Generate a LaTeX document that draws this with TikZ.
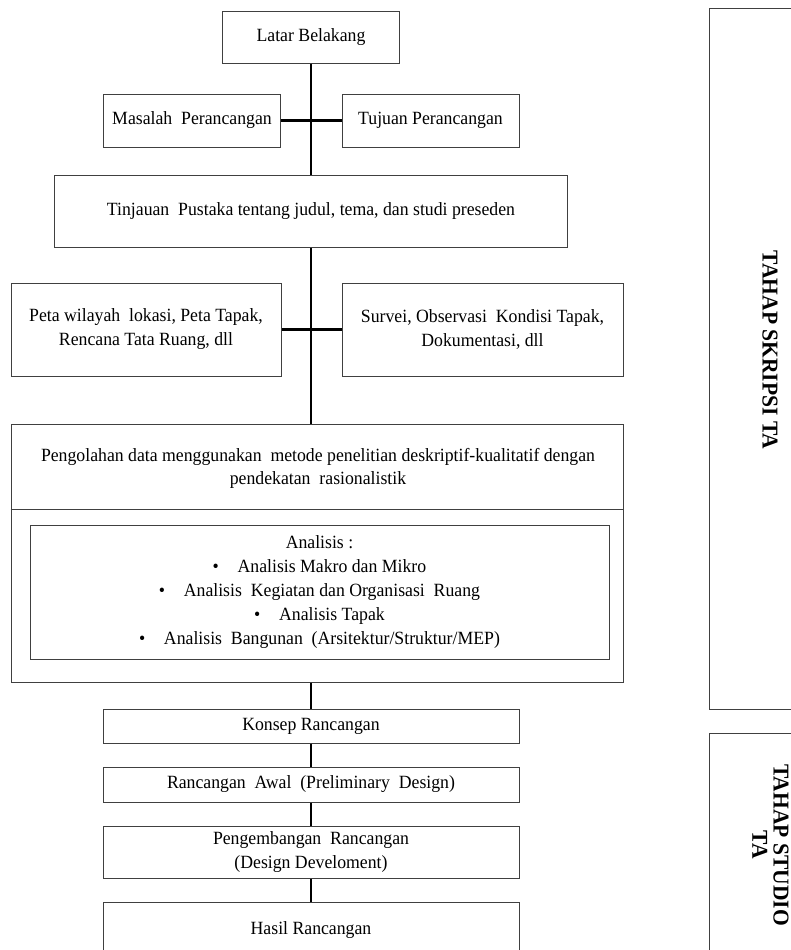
\documentclass[tikz,border=0pt]{standalone}
\usepackage{fontspec}
\setmainfont[FakeStretch=0.95]{Liberation Serif}
\usepackage{tikz}
\usetikzlibrary{calc}

\begin{document}
\begin{tikzpicture}[x=0.75pt,y=-0.75pt,
		kotak/.style 2 args={draw=black!75,line width=0.75pt,fill=white,minimum width=#1*0.75pt,minimum height=#2*0.75pt,inner sep=0pt,align=center,font=\fontsize{14}{18}\selectfont},
		teks/.style={align=center,inner sep=0pt,font=\fontsize{14}{17.5}\selectfont},
		garis/.style={line width=2pt,black},
		tahap/.style={rotate=-90,align=center,inner sep=0pt,font=\bfseries\fontsize{17}{16}\selectfont}]
			\useasboundingbox (0,0) rectangle (790,950);
			\node[kotak={177}{52}] (latar) at (311,37) {Latar Belakang};
			\node[kotak={177}{53}] (masalah) at (192,120.5) {Masalah\ \ Perancangan};
			\node[kotak={177}{53}] (tujuan) at (430.5,120.5) {Tujuan Perancangan};
			\node[kotak={513}{72}] (tinjau) at (311,211) {Tinjauan\ \ Pustaka tentang judul, tema, dan studi preseden};
			\node[kotak={270}{93}] (peta) at (146,329.5) {Peta wilayah\ \ lokasi, Peta Tapak,\\Rencana Tata Ruang, dll};
			\node[kotak={281}{93}] (survei) at (482.5,329.5) {Survei, Observasi\ \ Kondisi Tapak,\\Dokumentasi, dll};
			\node[kotak={612}{258}] (olah) at (317,553) {};
			\node[teks] (olahjudul) at (318,468.5) {Pengolahan data menggunakan\ \ metode penelitian deskriptif-kualitatif dengan\\pendekatan\ \ rasionalistik};
			\draw[draw=black!75,line width=0.75pt] (olah.west |- 0,509) -- (olah.east |- 0,509);
			\node[kotak={579}{134}] (analisis) at (319.5,592) {Analisis :\\\textbullet\quad Analisis Makro dan Mikro\\\textbullet\quad Analisis\ \ Kegiatan dan Organisasi\ \ Ruang\\\textbullet\quad Analisis Tapak\\\textbullet\quad Analisis\ \ Bangunan\ \ (Arsitektur/Struktur/MEP)};
			\node[kotak={416}{34}] (konsep) at (311,726) {Konsep Rancangan};
			\node[kotak={416}{35}] (awal) at (311,784.5) {Rancangan\ \ Awal\ \ (Preliminary\ \ Design)};
			\node[kotak={416}{52}] (kembang) at (311,852) {Pengembangan\ \ Rancangan\\(Design Develoment)};
			\node[kotak={416}{56}] (hasil) at (311,930) {Hasil Rancangan};
			\draw[garis] (latar) -- (tinjau);
			\draw[garis] (masalah) -- (tujuan);
			\draw[garis] (tinjau) -- (tinjau |- olah.north);
			\draw[garis] (peta) -- (survei);
			\draw[garis] (olah.south -| konsep) -- (konsep);
			\draw[garis] (konsep) -- (awal);
			\draw[garis] (awal) -- (kembang);
			\draw[garis] (kembang) -- (hasil);
			\node[draw=black!75,line width=0.75pt,minimum width=100*0.75pt,minimum height=701*0.75pt] (skripsi) at (759,358.5) {};
			\node[tahap] (skripsiteks) at (770,350) {TAHAP SKRIPSI TA};
			\node[draw=black!75,line width=0.75pt,minimum width=100*0.75pt,minimum height=230*0.75pt] (studio) at (759,848) {};
			\node[tahap] (studioteks) at (770.5,845) {TAHAP STUDIO\\TA};
		\end{tikzpicture}
\end{document}
